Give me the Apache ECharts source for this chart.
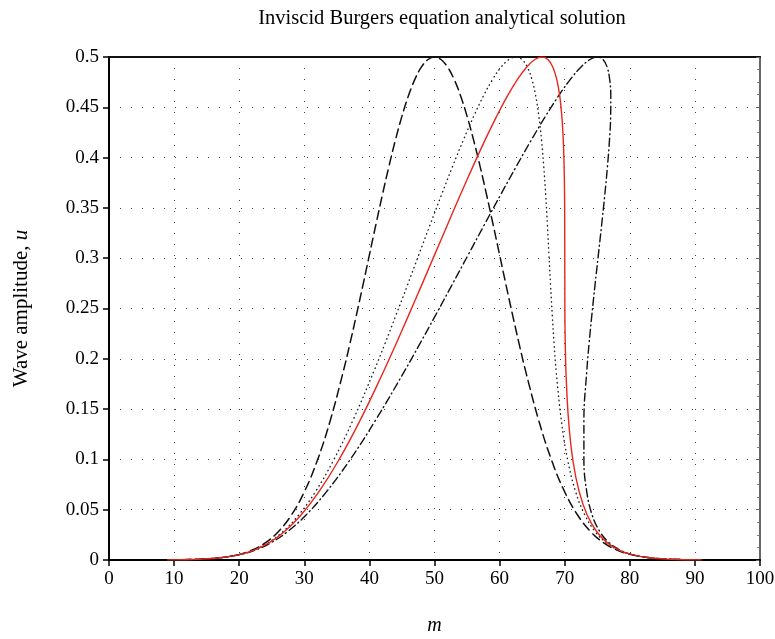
<!DOCTYPE html>
<html>
<head>
<meta charset="utf-8">
<script src="https://cdn.jsdelivr.net/npm/echarts@6/dist/echarts.min.js"></script>
<style>
  html, body { margin: 0; padding: 0; background: #fff; }
  #chart { width: 775px; height: 639px; }
</style>
</head>
<body>
<div id="chart"></div>
<script>
// wave amplitude u along each curve (same value carried by each characteristic)
const amplitude = [
    0.0001, 0.0008, 0.0022, 0.0056, 0.0099, 0.0170, 0.0281, 0.0445, 0.0677, 0.0989, 0.1390, 0.1877,
    0.2148, 0.2434, 0.2730, 0.3033, 0.3335, 0.3631, 0.3913, 0.4176, 0.4412, 0.4616, 0.4780, 0.4901, 0.4975,
    0.5,
    0.4975, 0.4901, 0.4780, 0.4616, 0.4412, 0.4176, 0.3913, 0.3631, 0.3335, 0.3033, 0.2730, 0.2434, 0.2148,
    0.1877, 0.1390, 0.0989, 0.0677, 0.0445, 0.0281, 0.0170, 0.0099, 0.0056, 0.0022, 0.0008, 0.0001
]
// m positions, dashed curve (initial profile)
const mDashed = [
    9, 14, 17, 20, 22, 24, 26, 28, 30, 32, 34, 36,
    37, 38, 39, 40, 41, 42, 43, 44, 45, 46, 47, 48, 49,
    50,
    51, 52, 53, 54, 55, 56, 57, 58, 59, 60, 61, 62, 63,
    64, 66, 68, 70, 72, 74, 76, 78, 80, 83, 86, 91
]
// dotted curve
const mDotted = [
    9, 14.02, 17.06, 20.14, 22.25, 24.43, 26.7, 29.11, 31.69, 34.47, 37.48, 40.69,
    42.37, 44.09, 45.83, 47.58, 49.34, 51.08, 52.78, 54.44, 56.03, 57.54, 58.95, 60.25, 61.44,
    62.5,
    63.44, 64.25, 64.95, 65.54, 66.03, 66.44, 66.78, 67.08, 67.34, 67.58, 67.83, 68.09, 68.37,
    68.69, 69.48, 70.47, 71.69, 73.11, 74.7, 76.43, 78.25, 80.14, 83.06, 86.02, 91
]
// red solid curve
const mRed = [
    9, 14.03, 17.07, 20.18, 22.33, 24.56, 26.93, 29.47, 32.23, 35.26, 38.59, 42.19,
    44.09, 46.03, 48.01, 50.01, 52.01, 53.98, 55.91, 57.78, 59.56, 61.23, 62.77, 64.17, 65.42,
    66.5,
    67.42, 68.17, 68.77, 69.23, 69.56, 69.78, 69.91, 69.98, 70.0, 70.01, 70.02, 70.03, 70.09,
    70.19, 70.59, 71.26, 72.23, 73.47, 74.93, 76.56, 78.33, 80.18, 83.07, 86.03, 91
]
// dash-dot curve
const mDashDot = [
    9, 14.04, 17.11, 20.28, 22.5, 24.85, 27.41, 30.23, 33.39, 36.95, 40.95, 45.39,
    47.74, 50.17, 52.65, 55.17, 57.68, 60.16, 62.57, 64.88, 67.06, 69.08, 70.9, 72.51, 73.88,
    75.0,
    75.88, 76.51, 76.9, 77.08, 77.06, 76.88, 76.57, 76.16, 75.68, 75.17, 74.65, 74.17, 73.74,
    73.39, 72.95, 72.95, 73.39, 74.23, 75.41, 76.85, 78.5, 80.28, 83.11, 86.04, 91
]

const font = 'Liberation Serif'
const toPairs = xs => xs.map((x, i) => [x, amplitude[i]])

const createCurveChart = ({ chartDom, curves = [] }) => {
    const myChart = echarts.init(chartDom)
    const gridLine = { show: true, lineStyle: { color: '#444', width: 1, type: [1, 10] } }
    const option = {
        animation: false,
        backgroundColor: '#fff',
        title: {
            text: 'Inviscid Burgers equation analytical solution',
            left: 437,
            top: 3,
            textAlign: 'center',
            textStyle: { fontFamily: font, fontSize: 20.5, fontWeight: 'normal', color: '#000' }
        },
        grid: { left: 109, right: 15, top: 57, bottom: 79, outerBoundsMode: 'none' },
        xAxis: [{
            type: 'value',
            min: 0,
            max: 100,
            interval: 10,
            name: 'm',
            nameLocation: 'middle',
            nameGap: 56,
            nameTextStyle: { fontFamily: font, fontSize: 20, fontStyle: 'italic', color: '#000' },
            axisLine: { onZero: false, lineStyle: { color: '#000', width: 2 } },
            axisTick: { length: 6, lineStyle: { color: '#000', width: 1.5 } },
            axisLabel: { margin: 10, fontFamily: font, fontSize: 19, color: '#000' },
            splitLine: gridLine
        }, {
            type: 'value',
            position: 'top',
            min: 0,
            max: 100,
            interval: 10,
            axisLine: { onZero: false, lineStyle: { color: '#111', width: 2 } },
            axisTick: { show: false },
            axisLabel: { show: false },
            splitLine: { show: false }
        }],
        yAxis: [{
            type: 'value',
            min: 0,
            max: 0.5,
            interval: 0.05,
            name: 'Wave amplitude, {i|u}',
            nameLocation: 'middle',
            nameGap: 77,
            nameTextStyle: {
                fontFamily: font, fontSize: 21, color: '#000',
                rich: { i: { fontFamily: font, fontSize: 21, fontStyle: 'italic', color: '#000' } }
            },
            axisLine: { onZero: false, lineStyle: { color: '#000', width: 2 } },
            axisTick: { length: 6, lineStyle: { color: '#000', width: 1.5 } },
            axisLabel: { margin: 10, fontFamily: font, fontSize: 19, color: '#000' },
            splitLine: gridLine
        }, {
            type: 'value',
            position: 'right',
            min: 0,
            max: 0.5,
            interval: 0.05,
            axisLine: { onZero: false, lineStyle: { color: '#666', width: 2 } },
            axisTick: { inside: true, length: 4, lineStyle: { color: '#666' } },
            minorTick: { show: true, splitNumber: 4, length: 3, lineStyle: { color: '#777' } },
            axisLabel: { show: false },
            splitLine: { show: false }
        }],
        series: curves.map(c => ({
            type: 'line',
            name: c.name,
            data: toPairs(c.xs),
            showSymbol: false,
            symbol: 'none',
            smooth: 0.4,
            z: c.z || 2,
            lineStyle: { color: c.color, width: c.width, type: c.dash, cap: 'round' }
        }))
    }
    myChart.setOption(option)
    return myChart
}

createCurveChart({
    chartDom: document.getElementById('chart'),
    curves: [
        { name: 'dashed', xs: mDashed, color: '#111', width: 1.5, dash: [9, 5] },
        { name: 'dotted', xs: mDotted, color: '#222', width: 1.4, dash: [0.5, 4] },
        { name: 'dash-dot', xs: mDashDot, color: '#111', width: 1.4, dash: [8, 3.5, 1, 3.5] },
        { name: 'red', xs: mRed, color: '#e8261e', width: 1.4, dash: 'solid', z: 3 }
    ]
})
</script>
</body>
</html>
